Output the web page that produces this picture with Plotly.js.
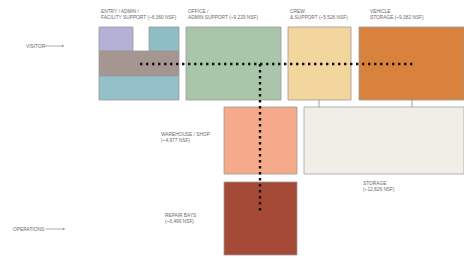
<!DOCTYPE html>
<html><head><meta charset="utf-8">
<script src="https://cdn.plot.ly/plotly-3.0.1.min.js"></script>
<style>html,body{margin:0;padding:0;background:#fff}#c{width:464px;height:261px}</style>
</head><body><div id="c"></div>
<script>
// Program blocks (names, area) and their diagram extents
const blockNames = ["Entry purple","Entry teal top","Entry core","Entry teal base","Office","Crew","Vehicle","Warehouse","Repair","Storage"];
const blockX0 = [99,149,99,99,186,288,359,224,224,304];
const blockX1 = [133,179,179,179,281,351,464,297,297,464];
const blockY0 = [27,27,51,76,27,27,27,107,182,107];
const blockY1 = [51,51,76,100,100,100,100,174,255,174];
const blockColors = ["#b4b1d7","#8fbdc6","#a59692","#94c0ca","#a9c6aa","#f2d69e","#d9823d","#f5aa8c","#a44a36","#f1eee7"];

const labelText = [
  "ENTRY / ADMIN /<br>FACILITY SUPPORT (~6,360 NSF)",
  "OFFICE /<br>ADMIN SUPPORT (~9,229 NSF)",
  "CREW<br>& SUPPORT (~5,526 NSF)",
  "VEHICLE<br>STORAGE (~9,382 NSF)",
  "WAREHOUSE / SHOP<br>(~4,977 NSF)",
  "REPAIR BAYS<br>(~6,499 NSF)",
  "STORAGE<br>(~12,826 NSF)"
];
const labelX = [99,186,288,368,159,163,361];
const labelY = [14,14,14,14,137,218,186];

// circulation path (dotted)
const pathX = [140,414,null,260,260];
const pathY = [64,64,null,64,212];

// connectors
const connX = [319,319,null,412,412];
const connY = [100,107,null,100,107];

const shapes = blockNames.map((n,i)=>({
  type:"rect", xref:"x", yref:"y",
  x0:blockX0[i], x1:blockX1[i], y0:blockY0[i], y1:blockY1[i],
  fillcolor:blockColors[i], line:{color:i===9?"#9aa3ab":"#9a9a9a", width:0.8}, layer:"below"
}));

const lf = {family:"Liberation Sans, Arial", size:4.8, color:"#6a6a6a"};
const annotations = labelText.map((t,i)=>({
  x:labelX[i], y:labelY[i], xref:"x", yref:"y", text:t, showarrow:false,
  xanchor:"left", yanchor:"middle", align:"left", font:lf
}));
annotations.push(
  {x:64,y:46,ax:43,ay:46,xref:"x",yref:"y",axref:"x",ayref:"y",showarrow:true,arrowhead:2,arrowsize:0.6,arrowwidth:0.6,arrowcolor:"#777",text:""},
  {x:24,y:46,xref:"x",yref:"y",text:"VISITOR",showarrow:false,xanchor:"left",font:lf},
  {x:65,y:229,ax:44,ay:229,xref:"x",yref:"y",axref:"x",ayref:"y",showarrow:true,arrowhead:2,arrowsize:0.6,arrowwidth:0.6,arrowcolor:"#777",text:""},
  {x:11,y:229,xref:"x",yref:"y",text:"OPERATIONS",showarrow:false,xanchor:"left",font:lf}
);

const traces = [
  {x:connX, y:connY, mode:"lines", line:{color:"#8a8a8a", width:0.8}, hoverinfo:"skip"},
  {x:pathX, y:pathY, mode:"lines", line:{color:"#111", width:2.4, dash:"2.4px,3.6px"}, hoverinfo:"skip"}
];

Plotly.newPlot("c", traces, {
  width:464, height:261, margin:{l:0,r:0,t:0,b:0},
  paper_bgcolor:"#fff", plot_bgcolor:"#fff", showlegend:false,
  xaxis:{range:[0,464], visible:false, fixedrange:true},
  yaxis:{range:[261,0], visible:false, fixedrange:true},
  shapes:shapes, annotations:annotations
}, {staticPlot:true});
</script></body></html>
